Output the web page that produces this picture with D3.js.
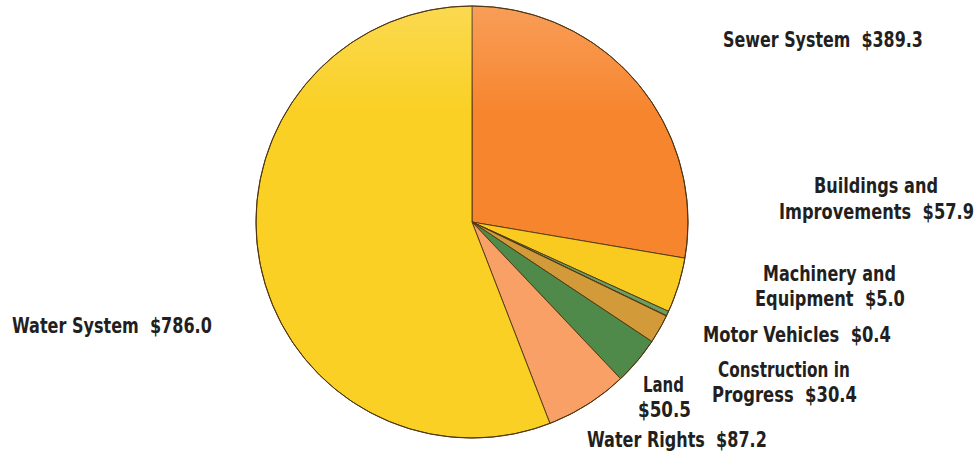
<!DOCTYPE html>
<html>
<head>
<meta charset="utf-8">
<script src="https://cdn.jsdelivr.net/npm/d3@7"></script>
<style>
  html, body { margin: 0; padding: 0; background: #fff; }
  svg { display: block; }
  .lbl { font-family: "Liberation Sans Narrow", "DejaVu Sans Condensed", "Arial Narrow", sans-serif;
         font-weight: bold; font-size: 21px; fill: #231f20; white-space: pre; }
</style>
</head>
<body>
<svg id="chart" width="977" height="465"></svg>
<script>
// Capital assets by type (millions of dollars), clockwise from 12 o'clock
const categories = ["Sewer System", "Buildings and Improvements", "Machinery and Equipment",
                    "Motor Vehicles", "Construction in Progress", "Land", "Water Rights", "Water System"];
const values = [389.3, 57.9, 5.0, 0.4, 30.4, 50.5, 87.2, 786.0];
const sliceColors = ["#f7852e", "#f9ca20", "#6a9f63", "#b9a45a", "#d39a3a", "#4f8a4b", "#f9a066", "#fad024"];

// Label layout: how many words of the name go on the first line,
// whether the value gets its own line, and each line's placement.
const labelLayout = [
  { brk: 0, valueOwnLine: false, lines: [{ x: 723, y: 47, w: 200 }] },
  { brk: 2, valueOwnLine: false, lines: [{ x: 814, y: 193, w: 124 }, { x: 779, y: 219, w: 195 }] },
  { brk: 2, valueOwnLine: false, lines: [{ x: 763, y: 281, w: 133 }, { x: 755, y: 306, w: 150 }] },
  { brk: 0, valueOwnLine: false, lines: [{ x: 703, y: 342, w: 188 }] },
  { brk: 2, valueOwnLine: false, lines: [{ x: 718, y: 377, w: 132 }, { x: 712, y: 402, w: 145 }] },
  { brk: 0, valueOwnLine: true,  lines: [{ x: 643, y: 392, w: 41 }, { x: 638, y: 417, w: 53 }] },
  { brk: 0, valueOwnLine: false, lines: [{ x: 587, y: 447, w: 180 }] },
  { brk: 0, valueOwnLine: false, lines: [{ x: 12, y: 333, w: 200 }] }
];

const data = categories.map((c, i) => ({ name: c, value: values[i], color: sliceColors[i], layout: labelLayout[i] }));

const svg = d3.select("#chart");
const cx = 472, cy = 222, radius = 216;

const defs = svg.append("defs");
const shine = defs.append("linearGradient")
  .attr("id", "shine").attr("gradientUnits", "userSpaceOnUse")
  .attr("x1", 0).attr("y1", cy - radius).attr("x2", 0).attr("y2", cy + radius);
shine.append("stop").attr("offset", 0).attr("stop-color", "#fff").attr("stop-opacity", 0.2);
shine.append("stop").attr("offset", 0.25).attr("stop-color", "#fff").attr("stop-opacity", 0.0);
shine.append("stop").attr("offset", 1).attr("stop-color", "#fff").attr("stop-opacity", 0.0);

const pie = d3.pie().sort(null).value(d => d.value);
const arc = d3.arc().innerRadius(0).outerRadius(radius);

const g = svg.append("g").attr("transform", `translate(${cx},${cy})`);

g.selectAll("path.slice")
  .data(pie(data))
  .join("path")
  .attr("class", "slice")
  .attr("d", arc)
  .attr("fill", d => d.data.color)
  .attr("stroke", "#4e3410")
  .attr("stroke-width", 0.9)
  .attr("stroke-linejoin", "round");

// soft highlight toward the top of the disc
g.append("circle")
  .attr("r", radius)
  .attr("transform", `translate(${-cx},${-cy})`)
  .attr("cx", cx).attr("cy", cy)
  .attr("fill", "url(#shine)")
  .attr("pointer-events", "none");

g.append("circle")
  .attr("r", radius)
  .attr("fill", "none")
  .attr("stroke", "#4e3410")
  .attr("stroke-width", 1);

// Labels: each line is squeezed horizontally to its target width
const fmt = d3.format("$.1f");
data.forEach(d => {
  const words = d.name.split(" ");
  const valueText = fmt(d.value);
  let lines;
  if (d.layout.valueOwnLine) {
    lines = [d.name, valueText];
  } else if (d.layout.brk > 0) {
    lines = [words.slice(0, d.layout.brk).join(" "), words.slice(d.layout.brk).join(" ") + "  " + valueText];
  } else {
    lines = [d.name + "  " + valueText];
  }
  lines.forEach((t, i) => {
    const p = d.layout.lines[i];
    const txt = svg.append("text")
      .attr("class", "lbl")
      .attr("x", 0).attr("y", 0)
      .text(t);
    const natural = txt.node().getComputedTextLength();
    const sx = natural > 0 ? p.w / natural : 1;
    txt.attr("transform", `translate(${p.x},${p.y}) scale(${sx},1)`);
  });
});
</script>
</body>
</html>
